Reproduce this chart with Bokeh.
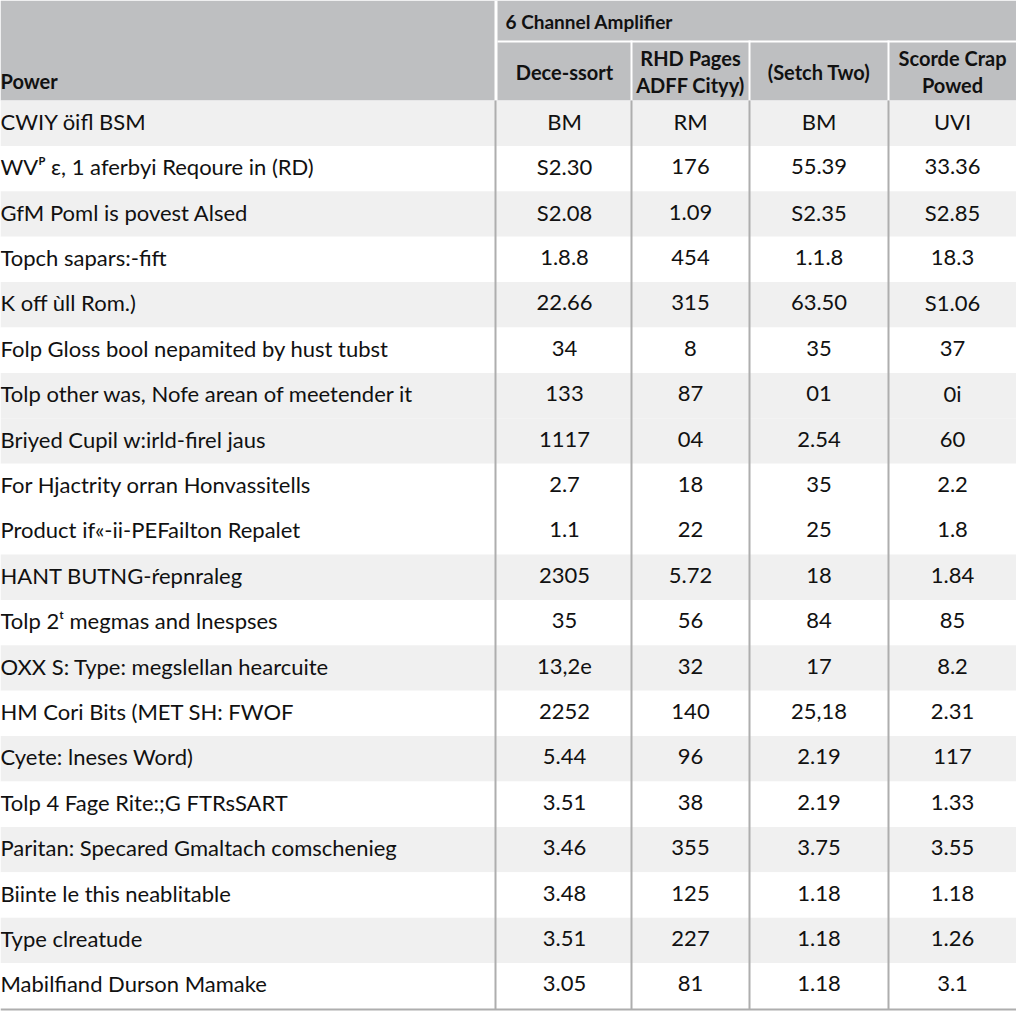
from bokeh.plotting import figure
from bokeh.models import Range1d
from bokeh.core.properties import value
from bokeh.embed import file_html
from bokeh.resources import INLINE

# ---------------- data ----------------
group_title = "6 Channel Amplifier"
first_header = "Power"
col_headers = ["Dece-ssort", "RHD Pages\nADFF Cityy)", "(Setch Two)", "Scorde Crap\nPowed"]

row_labels = [
    "CWIY öifl BSM",
    "WVᴾ ɛ, 1 aferbyi Reqoure in (RD)",
    "GfM Poml is povest Alsed",
    "Topch sapars:-fift",
    "K off ùll Rom.)",
    "Folp Gloss bool nepamited by hust tubst",
    "Tolp other was, Nofe arean of meetender it",
    "Briyed Cupil w:irld-firel jaus",
    "For Hjactrity orran Honvassitells",
    "Product if«-ii-PEFailton Repalet",
    "HANT BUTNG-ŕepnraleg",
    "Tolp 2ᵗ megmas and lnespses",
    "OXX S: Type: megslellan hearcuite",
    "HM Cori Bits (MET SH: FWOF",
    "Cyete: lneses Word)",
    "Tolp 4 Fage Rite:;G FTRsSART",
    "Paritan: Specared Gmaltach comschenieg",
    "Biinte le this neablitable",
    "Type clreatude",
    "Mabilfiand Durson Mamake",
]
col1 = ["BM", "S2.30", "S2.08", "1.8.8", "22.66", "34", "133", "1117", "2.7", "1.1",
        "2305", "35", "13,2e", "2252", "5.44", "3.51", "3.46", "3.48", "3.51", "3.05"]
col2 = ["RM", "176", "1.09", "454", "315", "8", "87", "04", "18", "22",
        "5.72", "56", "32", "140", "96", "38", "355", "125", "227", "81"]
col3 = ["BM", "55.39", "S2.35", "1.1.8", "63.50", "35", "01", "2.54", "35", "25",
        "18", "84", "17", "25,18", "2.19", "2.19", "3.75", "1.18", "1.18", "1.18"]
col4 = ["UVI", "33.36", "S2.85", "18.3", "S1.06", "37", "0i", "60", "2.2", "1.8",
        "1.84", "85", "8.2", "2.31", "117", "1.33", "3.55", "1.18", "1.26", "3.1"]

# row striping (style)
row_shaded = [1, 0, 1, 0, 1, 0, 1, 1, 0, 0, 1, 0, 1, 0, 1, 0, 1, 0, 1, 0]

# ---------------- layout ----------------
LEFT, RIGHT = 8, 1024
TOP = 8
label_right = 503
col_edges = [505, 639, 757, 896, 1024]
group_bottom = 48
header_bottom = 108
body_bottom = 1016
n = len(row_labels)
row_h = (body_bottom - header_bottom) / n

HEADER_BG = "#bebfc1"
SHADE = "#f0f0f0"
LINE = "#aeaeae"
TXT = "#111111"
FONT = "Lato"

p = figure(width=RIGHT - LEFT, height=1016, output_backend="svg", toolbar_location=None,
           x_range=Range1d(LEFT, RIGHT), y_range=Range1d(LEFT + 1016, TOP),
           min_border=0)
p.axis.visible = False
p.grid.visible = False
p.outline_line_color = None
p.background_fill_color = "white"
p.border_fill_color = "white"

# header background
p.quad(left=[LEFT], right=[RIGHT], top=[TOP], bottom=[header_bottom], fill_color=HEADER_BG, line_color=None)
# white separators in header
p.quad(left=[label_right - 1], right=[col_edges[0]], top=[TOP], bottom=[header_bottom],
       fill_color="white", line_color=None)
p.quad(left=[col_edges[0]], right=[RIGHT], top=[group_bottom], bottom=[group_bottom + 2],
       fill_color="white", line_color=None)
p.quad(left=[e - 1 for e in col_edges[1:-1]], right=[e + 1 for e in col_edges[1:-1]],
       top=[group_bottom] * 3, bottom=[header_bottom] * 3, fill_color="white", line_color=None)

# body rows
tops = [header_bottom + i * row_h for i in range(n)]
bots = [t + row_h for t in tops]
fills = [SHADE if s else "white" for s in row_shaded]
p.quad(left=[LEFT] * n, right=[RIGHT] * n, top=tops, bottom=bots, fill_color=fills, line_color=None)

# body vertical lines
xs = [label_right] + col_edges[1:-1]
p.segment(x0=xs, x1=xs, y0=[header_bottom] * len(xs), y1=[body_bottom + 1] * len(xs),
          line_color=LINE, line_width=2)
# bottom line
p.segment(x0=[LEFT], x1=[RIGHT], y0=[body_bottom + 1], y1=[body_bottom + 1], line_color=LINE, line_width=2)

# header texts
p.text(x=[LEFT], y=[88], text=[first_header], text_font=value(FONT), text_font_style="bold",
       text_font_size="20px", text_color=TXT, text_baseline="middle", text_align="left")
p.text(x=[col_edges[0] + 8], y=[29], text=[group_title], text_font=value(FONT), text_font_style="bold",
       text_font_size="19px", text_color=TXT, text_baseline="middle", text_align="left")
centers = [(col_edges[i] + col_edges[i + 1]) / 2 for i in range(4)]
p.text(x=centers, y=[79] * 4, text=col_headers, text_font=value(FONT), text_font_style="bold",
       text_font_size="20px", text_color=TXT, text_baseline="middle", text_align="center",
       text_line_height=1.15)

# body texts
ymid = [(t + b) / 2 - 2 for t, b in zip(tops, bots)]
p.text(x=[LEFT] * n, y=ymid, text=row_labels, text_font=value(FONT), text_font_size="22px",
       text_color=TXT, text_baseline="middle", text_align="left")
for c, vals in zip(centers, [col1, col2, col3, col4]):
    p.text(x=[c] * n, y=ymid, text=vals, text_font=value(FONT), text_font_size="22px",
           text_color=TXT, text_baseline="middle", text_align="center")

open("out.html", "w").write(file_html(p, INLINE))
